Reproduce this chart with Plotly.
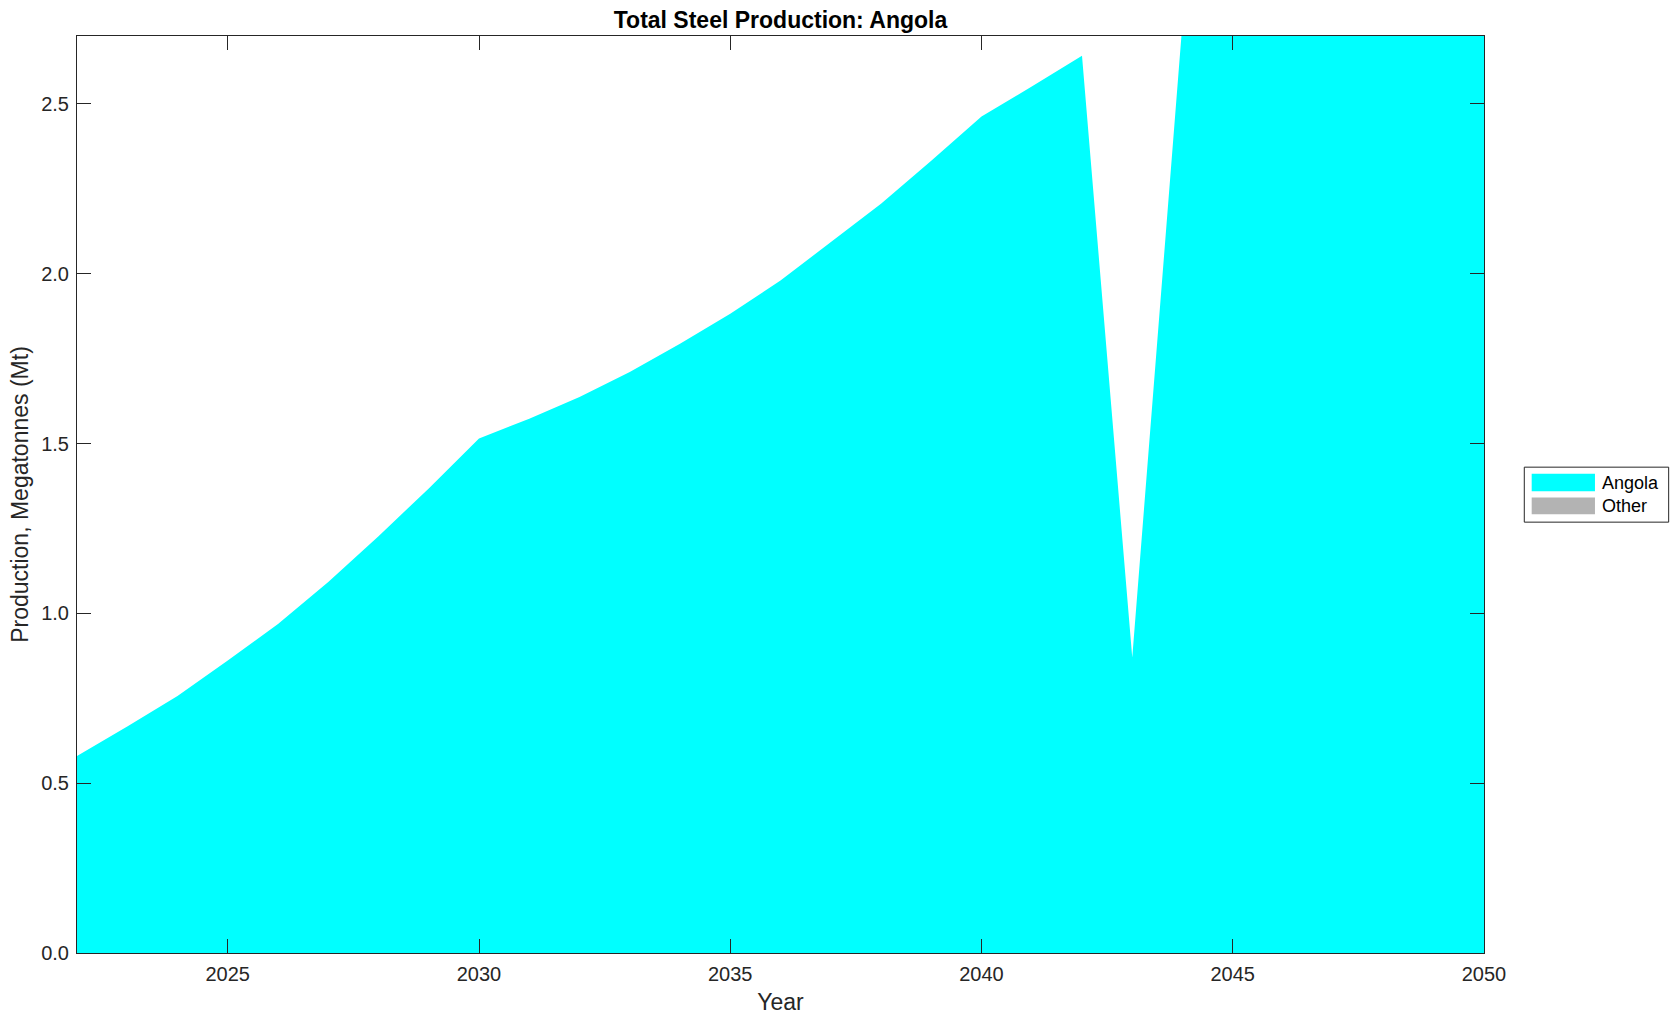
import plotly.graph_objects as go

# ---- data ----
years = list(range(2022, 2051))
angola = [0.580, 0.667, 0.757, 0.861, 0.969, 1.092, 1.227, 1.368, 1.515,
          1.573, 1.637, 1.711, 1.794, 1.882, 1.980, 2.092, 2.206, 2.333,
          2.463, 2.551, 2.642, 0.870, 2.740, 2.830, 2.930, 3.030, 3.130,
          3.230, 3.330]
other = [0.0] * len(years)
x_ticks = [2025, 2030, 2035, 2040, 2045, 2050]
y_ticks = [0.0, 0.5, 1.0, 1.5, 2.0, 2.5]
series_names = ["Angola", "Other"]
series_colors = ["#00FFFF", "#B3B3B3"]

W, H = 1679, 1021
L, R, T, B = 76.7, 1484.0, 36.0, 953.3
FONT = "Liberation Sans, Arial, Helvetica, sans-serif"
AX = "#262626"

fig = go.Figure()
fig.add_trace(go.Scatter(x=years, y=angola, mode="lines", stackgroup="one",
                         line=dict(width=0, color=series_colors[0]),
                         fillcolor=series_colors[0], name=series_names[0],
                         showlegend=False))
fig.add_trace(go.Scatter(x=years, y=other, mode="lines", stackgroup="one",
                         line=dict(width=0, color=series_colors[1]),
                         fillcolor=series_colors[1], name=series_names[1],
                         showlegend=False))

def px(x):
    return (x - L) / (R - L)

def py(y):
    return (B - y) / (B - T)

axis_common = dict(showline=True, linecolor=AX, linewidth=1, mirror="ticks",
                   ticks="inside", ticklen=14, tickcolor=AX, tickwidth=1,
                   showgrid=False, zeroline=False,
                   tickfont=dict(family=FONT, size=20, color=AX))

fig.update_layout(
    width=W, height=H,
    margin=dict(l=L, r=W - R, t=T, b=H - B, autoexpand=False),
    paper_bgcolor="white", plot_bgcolor="white",
    font=dict(family=FONT, color=AX),
    title=dict(text="<b>Total Steel Production: Angola</b>",
               font=dict(family=FONT, size=23, color="black"),
               x=0.5, xref="paper", xanchor="center",
               y=1 - 19.5 / H, yref="container", yanchor="middle"),
    xaxis=dict(range=[2022, 2050], tickvals=x_ticks,
               ticktext=[str(v) for v in x_ticks], ticklabelstandoff=3,
               title=dict(text="Year", font=dict(family=FONT, size=23, color=AX),
                          standoff=9),
               automargin=False, **axis_common),
    yaxis=dict(range=[0, 2.7], tickvals=y_ticks,
               ticktext=[f"{v:.1f}" for v in y_ticks], ticklabelstandoff=3,
               title=dict(text="Production, Megatonnes (Mt)",
                          font=dict(family=FONT, size=23, color=AX), standoff=6),
               automargin=False, **axis_common),
    showlegend=False,
)

# manual legend (MATLAB-style box)
shapes = [dict(type="rect", xref="paper", yref="paper",
               x0=px(1524.3), x1=px(1668.7), y0=py(522.3), y1=py(467.3),
               line=dict(color=AX, width=1), fillcolor="white", layer="above")]
sw_y = [(474.0, 491.3), (497.7, 514.3)]
txt_y = [483.3, 506.0]
annotations = []
for i, name in enumerate(series_names):
    shapes.append(dict(type="rect", xref="paper", yref="paper",
                       x0=px(1531.7), x1=px(1595.0), y0=py(sw_y[i][1]), y1=py(sw_y[i][0]),
                       line=dict(width=0), fillcolor=series_colors[i], layer="above"))
    annotations.append(dict(text=name, xref="paper", yref="paper",
                            x=px(1600.0), y=py(txt_y[i]), xanchor="left", yanchor="middle",
                            showarrow=False, font=dict(family=FONT, size=18, color="black")))
fig.update_layout(shapes=shapes, annotations=annotations)

fig.write_html("out.html", config={"displayModeBar": False},
               post_script="document.body.style.margin='0';document.body.style.overflow='hidden';")
